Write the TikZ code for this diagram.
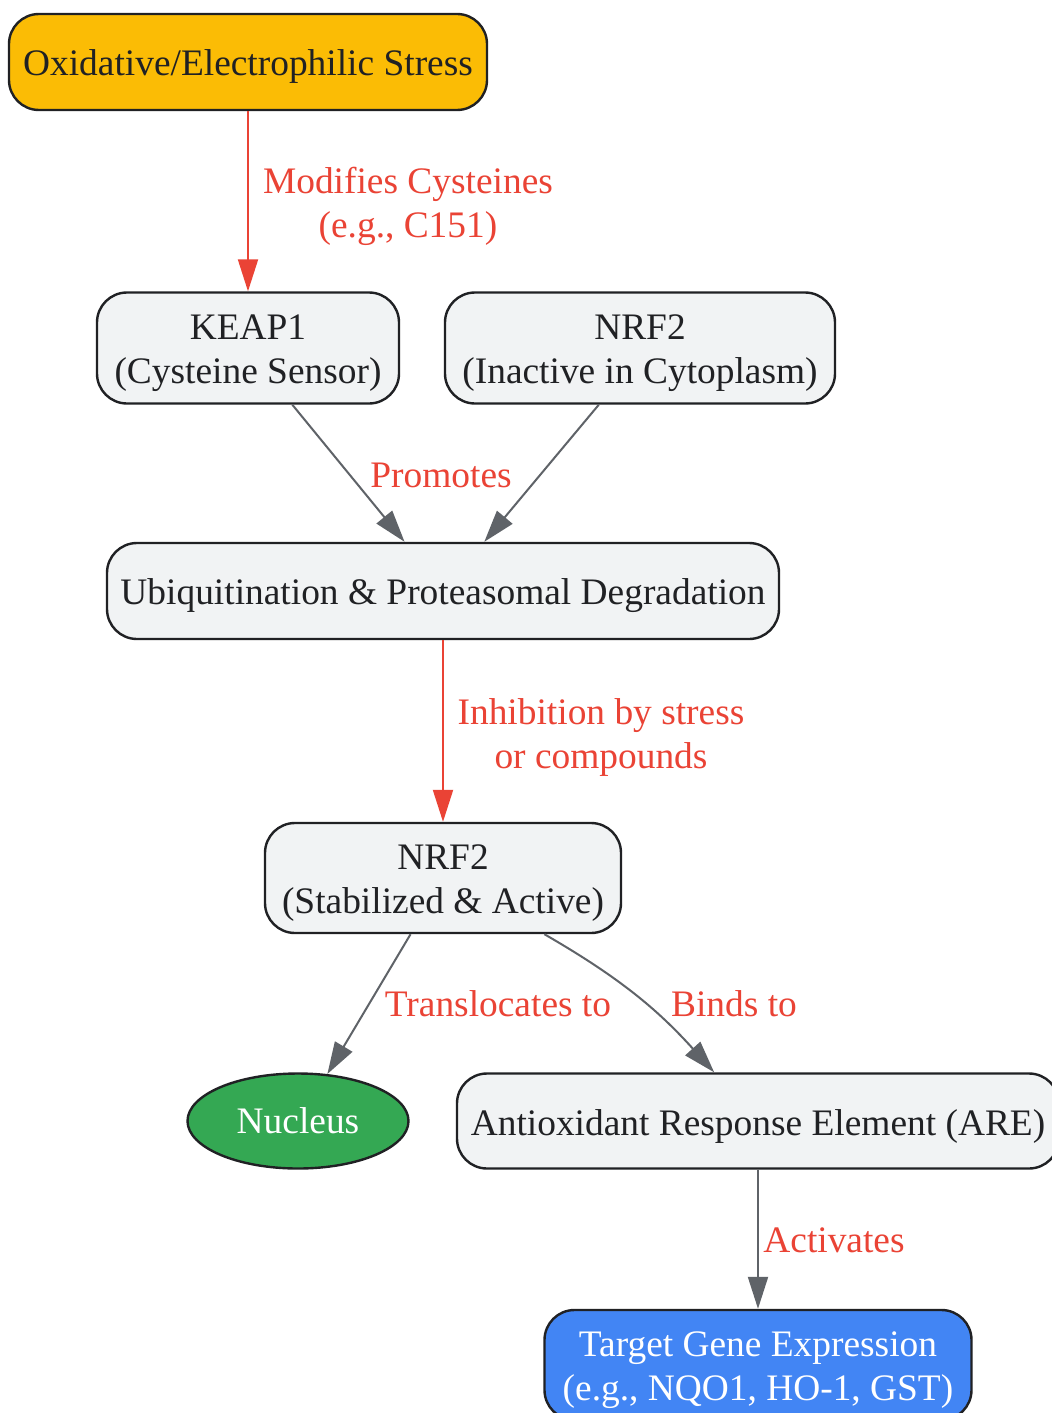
\documentclass[tikz,border=0pt]{standalone}
\usepackage{fontspec}
\setmainfont{Liberation Serif}
\usetikzlibrary{arrows.meta,shapes.geometric}
\definecolor{ink}{HTML}{202124}
\definecolor{boxgray}{HTML}{F1F3F4}
\definecolor{stressyellow}{HTML}{FBBC05}
\definecolor{nucgreen}{HTML}{34A853}
\definecolor{geneblue}{HTML}{4285F4}
\definecolor{edgegray}{HTML}{5F6368}
\definecolor{labelred}{HTML}{EA4335}
\newcommand{\fsz}{\fontsize{18.7}{22}\selectfont}
\begin{document}
\begin{tikzpicture}[x=0.5pt,y=-0.5pt,
  boxshape/.style={draw=ink, line width=1.2pt, rounded corners=15pt, fill=boxgray, inner sep=0pt},
  boxtext/.style={text=ink, align=center, font=\fsz, inner sep=0pt, yshift=-2.5pt},
  oval/.style={draw=ink, line width=1.2pt, ellipse, fill=nucgreen, text=white, font=\fsz, inner sep=0pt},
  redge/.style={draw=labelred, line width=1pt, -{Triangle[length=16pt,width=10pt]}},
  gedge/.style={draw=edgegray, line width=1pt, -{Triangle[length=16pt,width=10pt]}},
  elabel/.style={text=labelred, font=\fsz, align=center, inner sep=0pt}]
\useasboundingbox (0,0) rectangle (1051,1413);
\fill[white] (0,0) rectangle (1051,1413);

\node[boxshape, fill=stressyellow, minimum width=239pt, minimum height=48pt,
  label={[boxtext]center:{Oxidative/Electrophilic Stress}}] (stress) at (248,62) {};
\node[boxshape, minimum width=151pt, minimum height=55.5pt,
  label={[boxtext]center:{KEAP1\\(Cysteine Sensor)}}] (keap) at (248,348) {};
\node[boxshape, minimum width=195pt, minimum height=55.5pt,
  label={[boxtext]center:{NRF2\\(Inactive in Cytoplasm)}}] (nrfi) at (640,348) {};
\node[boxshape, minimum width=336pt, minimum height=48pt,
  label={[boxtext]center:{Ubiquitination \& Proteasomal Degradation}}] (ubiq) at (443,591) {};
\node[boxshape, minimum width=178pt, minimum height=55pt,
  label={[boxtext]center:{NRF2\\(Stabilized \& Active)}}] (nrfs) at (443,878) {};
\node[oval, minimum width=110.5pt, minimum height=47.5pt] (nuc) at (298,1121) {Nucleus};
\node[boxshape, minimum width=301pt, minimum height=47.5pt,
  label={[boxtext]center:{Antioxidant Response Element (ARE)}}] (are) at (758,1121) {};
\node[boxshape, fill=geneblue, minimum width=213.5pt, minimum height=55pt,
  label={[boxtext,text=white]center:{Target Gene Expression\\(e.g., NQO1, HO-1, GST)}}] (gene) at (758,1365) {};

\draw[redge] (stress) -- (keap);
\draw[gedge] (keap.-52.5) -- (ubiq.128.7);
\draw[gedge] (nrfi.-126.9) -- (ubiq.50);
\draw[redge] (ubiq) -- (nrfs);
\draw[gedge] (nrfs.-120.2) -- (nuc.58.5);
\draw[gedge] (nrfs.-29.3) to[out=-30,in=132] (are.132);
\draw[gedge] (are) -- (gene);

\node[elabel] (l1) at (408,206.5) {Modifies Cysteines\\(e.g., C151)};
\node[elabel] (l2) at (441,475) {Promotes};
\node[elabel] (l3) at (601,737.5) {Inhibition by stress\\or compounds};
\node[elabel] (l4) at (498,1004) {Translocates to};
\node[elabel] (l5) at (734,1004) {Binds to};
\node[elabel] (l6) at (834,1240) {Activates};
\end{tikzpicture}
\end{document}
